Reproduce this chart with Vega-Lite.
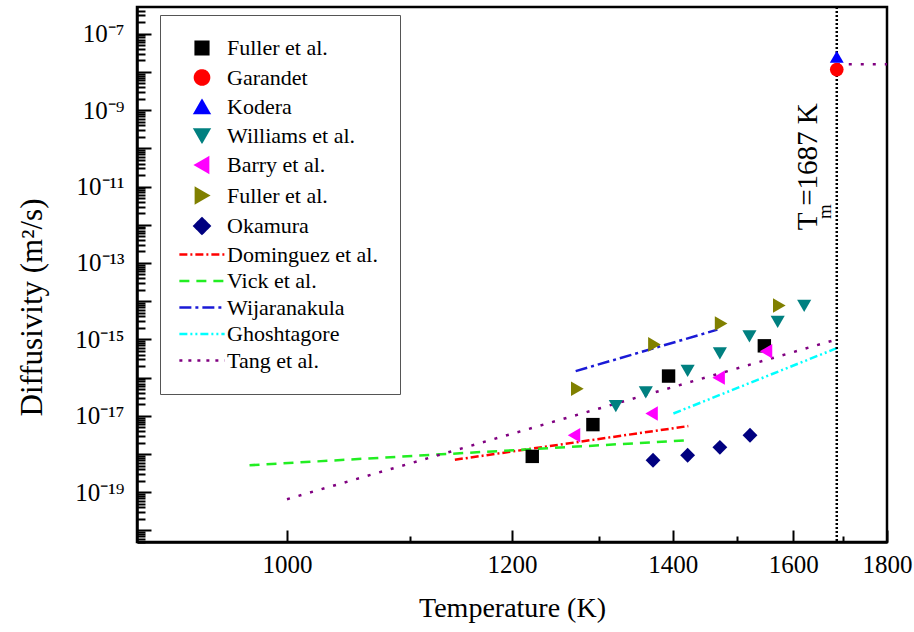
{
  "$schema": "https://vega.github.io/schema/vega-lite/v6.json",
  "width": 750,
  "height": 535,
  "autosize": {"type": "none"},
  "padding": {"left": 137, "top": 7, "right": 27, "bottom": 90},
  "background": "white",
  "config": {
    "view": {"stroke": "black", "strokeWidth": 2.5},
    "font": "Liberation Serif",
    "axis": {
      "grid": false,
      "domainColor": "black",
      "domainWidth": 2.5,
      "tickColor": "black",
      "tickWidth": 2,
      "labelColor": "black",
      "labelFont": "Liberation Serif",
      "labelFontSize": 25,
      "titleFont": "Liberation Serif",
      "titleFontSize": 28,
      "titleFontWeight": "normal",
      "titleColor": "black",
      "labelFlush": false,
      "labelOverlap": false
    }
  },
  "datasets": {
    "points": [
      {"series": "Fuller et al.", "T": 1222, "D": 8.7e-19},
      {"series": "Fuller et al.", "T": 1293, "D": 5.9e-18},
      {"series": "Fuller et al.", "T": 1394, "D": 1.1e-16},
      {"series": "Fuller et al.", "T": 1547, "D": 6.8e-16},
      {"series": "Garandet", "T": 1687, "D": 1.15e-8},
      {"series": "Kodera", "T": 1687, "D": 2.5e-8},
      {"series": "Williams et al.", "T": 1322, "D": 1.8e-17},
      {"series": "Williams et al.", "T": 1362, "D": 4.1e-17},
      {"series": "Williams et al.", "T": 1422, "D": 1.5e-16},
      {"series": "Williams et al.", "T": 1472, "D": 4.3e-16},
      {"series": "Williams et al.", "T": 1521, "D": 1.2e-15},
      {"series": "Williams et al.", "T": 1571, "D": 2.9e-15},
      {"series": "Williams et al.", "T": 1621, "D": 7.6e-15},
      {"series": "Barry et al.", "T": 1270, "D": 3.1e-18},
      {"series": "Barry et al.", "T": 1370, "D": 1.15e-17},
      {"series": "Barry et al.", "T": 1470, "D": 1.0e-16},
      {"series": "Barry et al.", "T": 1550, "D": 4.9e-16},
      {"series": "Fuller et al. (b)", "T": 1274, "D": 5.1e-17},
      {"series": "Fuller et al. (b)", "T": 1374, "D": 7.4e-16},
      {"series": "Fuller et al. (b)", "T": 1474, "D": 2.6e-15},
      {"series": "Fuller et al. (b)", "T": 1574, "D": 7.7e-15},
      {"series": "Okamura", "T": 1372, "D": 6.9e-19},
      {"series": "Okamura", "T": 1422, "D": 9.3e-19},
      {"series": "Okamura", "T": 1472, "D": 1.5e-18},
      {"series": "Okamura", "T": 1522, "D": 3.1e-18}
    ],
    "lines": [
      {"series": "Dominguez et al.", "seg": "a", "T": 1142, "D": 7.1e-19},
      {"series": "Dominguez et al.", "seg": "a", "T": 1423, "D": 5.4e-18},
      {"series": "Vick et al.", "seg": "a", "T": 973, "D": 5.1e-19},
      {"series": "Vick et al.", "seg": "a", "T": 1423, "D": 2.3e-18},
      {"series": "Wijaranakula", "seg": "a", "T": 1272, "D": 1.48e-16},
      {"series": "Wijaranakula", "seg": "a", "T": 1468, "D": 1.8e-15},
      {"series": "Ghoshtagore", "seg": "a", "T": 1401, "D": 1.15e-17},
      {"series": "Ghoshtagore", "seg": "a", "T": 1687, "D": 5.9e-16},
      {"series": "Tang et al.", "seg": "a", "T": 1000, "D": 6.6e-20},
      {"series": "Tang et al.", "seg": "a", "T": 1687, "D": 1.0e-15},
      {"series": "Tang et al.", "seg": "b", "T": 1687, "D": 1.6e-8},
      {"series": "Tang et al.", "seg": "b", "T": 1800, "D": 1.6e-8}
    ],
    "tm": [{"T": 1687}]
  },
  "layer": [
    {
      "data": {"name": "lines"},
      "mark": {"type": "line", "strokeWidth": 2.5},
      "encoding": {
        "x": {"field": "T", "type": "quantitative",
          "scale": {"type": "pow", "exponent": -1, "domain": [900, 1800], "nice": false, "zero": false},
          "axis": {"orient": "bottom", "values": [1100, 1300, 1500, 1700], "labels": false, "domain": false, "tickSize": -6, "title": null}},
        "y": {"field": "D", "type": "quantitative",
          "scale": {"type": "log", "domain": [5e-21, 5e-7], "nice": false},
          "axis": {"orient": "left", "labels": false, "domain": false, "tickSize": -8, "title": null,
            "values": [5e-21,6e-21,7e-21,8e-21,9e-21,2e-20,3e-20,4e-20,5e-20,6e-20,7e-20,8e-20,9e-20,2e-19,3e-19,4e-19,5e-19,6e-19,7e-19,8e-19,9e-19,2e-18,3e-18,4e-18,5e-18,6e-18,7e-18,8e-18,9e-18,2e-17,3e-17,4e-17,5e-17,6e-17,7e-17,8e-17,9e-17,2e-16,3e-16,4e-16,5e-16,6e-16,7e-16,8e-16,9e-16,2e-15,3e-15,4e-15,5e-15,6e-15,7e-15,8e-15,9e-15,2e-14,3e-14,4e-14,5e-14,6e-14,7e-14,8e-14,9e-14,2e-13,3e-13,4e-13,5e-13,6e-13,7e-13,8e-13,9e-13,2e-12,3e-12,4e-12,5e-12,6e-12,7e-12,8e-12,9e-12,2e-11,3e-11,4e-11,5e-11,6e-11,7e-11,8e-11,9e-11,2e-10,3e-10,4e-10,5e-10,6e-10,7e-10,8e-10,9e-10,2e-9,3e-9,4e-9,5e-9,6e-9,7e-9,8e-9,9e-9,2e-8,3e-8,4e-8,5e-8,6e-8,7e-8,8e-8,9e-8,2e-7,3e-7,4e-7]}},
        "color": {"field": "series", "type": "nominal",
          "scale": {"domain": ["Fuller et al.", "Garandet", "Kodera", "Williams et al.", "Barry et al.", "Fuller et al. (b)", "Okamura", "Dominguez et al.", "Vick et al.", "Wijaranakula", "Ghoshtagore", "Tang et al."],
                    "range": ["#000000", "#ff0000", "#0000ff", "#008080", "#ff00ff", "#808000", "#000080", "#ff0000", "#22ee22", "#1a1ad6", "#00ffff", "#800080"]},
          "legend": {
            "orient": "none", "legendX": 23, "legendY": 8, "title": null,
            "strokeColor": "#555555", "padding": 22, "fillColor": "white",
            "symbolSize": 200, "symbolOffset": 9, "labelOffset": 14, "rowPadding": 4.5,
            "labelFont": "Liberation Serif", "labelFontSize": 22, "labelColor": "black", "labelLimit": 300,
            "labelExpr": "datum.label == 'Fuller et al. (b)' ? 'Fuller et al.' : datum.label",
            "encode": {
              "symbols": {
                "update": {
                  "shape": {"signal": "datum.value == 'Fuller et al.' ? 'square' : datum.value == 'Garandet' ? 'circle' : datum.value == 'Kodera' ? 'triangle-up' : datum.value == 'Williams et al.' ? 'triangle-down' : datum.value == 'Barry et al.' ? 'triangle-left' : datum.value == 'Fuller et al. (b)' ? 'triangle-right' : datum.value == 'Okamura' ? 'diamond' : 'M-3.2,0H3.2'"},
                  "fill": {"signal": "indexof(['Dominguez et al.','Vick et al.','Wijaranakula','Ghoshtagore','Tang et al.'], datum.value) >= 0 ? 'transparent' : scale('color', datum.value)"},
                  "stroke": {"signal": "indexof(['Dominguez et al.','Vick et al.','Wijaranakula','Ghoshtagore','Tang et al.'], datum.value) >= 0 ? scale('color', datum.value) : 'transparent'"},
                  "strokeDash": {"signal": "datum.value == 'Dominguez et al.' ? [8,3,2,3] : datum.value == 'Vick et al.' ? [10,7] : datum.value == 'Wijaranakula' ? [12,4,3,4] : datum.value == 'Ghoshtagore' ? [8,3,2,3,2,3] : datum.value == 'Tang et al.' ? [3,6] : [1,0]"},
                  "strokeWidth": {"value": 2.5},
                  "opacity": {"value": 1},
                  "size": {"signal": "datum.value == 'Fuller et al.' ? 160 : datum.value == 'Okamura' ? 230 : 200"}
                }
              }
            }
          }},
        "strokeDash": {"field": "series", "type": "nominal", "legend": null,
          "scale": {"domain": ["Dominguez et al.", "Vick et al.", "Wijaranakula", "Ghoshtagore", "Tang et al."],
                    "range": [[8, 3, 2, 3], [10, 7], [12, 4, 3, 4], [8, 3, 2, 3, 2, 3], [3, 9]]}},
        "detail": {"field": "seg"}
      }
    },
    {
      "data": {"name": "tm"},
      "mark": {"type": "rule", "color": "black", "strokeWidth": 2.5, "strokeDash": [2, 2]},
      "encoding": {
        "x": {"field": "T", "type": "quantitative",
          "scale": {"type": "pow", "exponent": -1, "domain": [900, 1800], "nice": false, "zero": false},
          "axis": null}
      }
    },
    {
      "data": {"name": "points"},
      "mark": {"type": "point", "filled": true, "opacity": 1},
      "encoding": {
        "x": {"field": "T", "type": "quantitative",
          "scale": {"type": "pow", "exponent": -1, "domain": [900, 1800], "nice": false, "zero": false},
          "axis": {"orient": "bottom", "values": [1000, 1200, 1400, 1600, 1800], "format": "d", "tickSize": -12,
            "labelPadding": 22, "title": "Temperature (K)", "titleY": 66, "titleBaseline": "middle"}},
        "y": {"field": "D", "type": "quantitative",
          "scale": {"type": "log", "domain": [5e-21, 5e-7], "nice": false},
          "axis": {"orient": "left", "tickSize": -14, "labelPadding": 27,
            "values": [1e-20, 1e-19, 1e-18, 1e-17, 1e-16, 1e-15, 1e-14, 1e-13, 1e-12, 1e-11, 1e-10, 1e-9, 1e-8, 1e-7],
            "labelExpr": "['10⁻⁷','','10⁻⁹','','10⁻¹¹','','10⁻¹³','','10⁻¹⁵','','10⁻¹⁷','','10⁻¹⁹',''][-7 - round(log(datum.value)/LN10)]",
            "title": "Diffusivity (m²/s)", "titleFontSize": 31, "titleX": -105, "titleY": 300, "titleBaseline": "middle"}},
        "color": {"field": "series", "type": "nominal",
          "scale": {"domain": ["Fuller et al.", "Garandet", "Kodera", "Williams et al.", "Barry et al.", "Fuller et al. (b)", "Okamura", "Dominguez et al.", "Vick et al.", "Wijaranakula", "Ghoshtagore", "Tang et al."],
                    "range": ["#000000", "#ff0000", "#0000ff", "#008080", "#ff00ff", "#808000", "#000080", "#ff0000", "#22ee22", "#1a1ad6", "#00ffff", "#800080"]},
          "legend": {
            "orient": "none", "legendX": 23, "legendY": 8, "title": null,
            "strokeColor": "#555555", "padding": 22, "fillColor": "white",
            "symbolSize": 200, "symbolOffset": 9, "labelOffset": 14, "rowPadding": 4.5,
            "labelFont": "Liberation Serif", "labelFontSize": 22, "labelColor": "black", "labelLimit": 300,
            "labelExpr": "datum.label == 'Fuller et al. (b)' ? 'Fuller et al.' : datum.label",
            "encode": {
              "symbols": {
                "update": {
                  "shape": {"signal": "datum.value == 'Fuller et al.' ? 'square' : datum.value == 'Garandet' ? 'circle' : datum.value == 'Kodera' ? 'triangle-up' : datum.value == 'Williams et al.' ? 'triangle-down' : datum.value == 'Barry et al.' ? 'triangle-left' : datum.value == 'Fuller et al. (b)' ? 'triangle-right' : datum.value == 'Okamura' ? 'diamond' : 'M-3.2,0H3.2'"},
                  "fill": {"signal": "indexof(['Dominguez et al.','Vick et al.','Wijaranakula','Ghoshtagore','Tang et al.'], datum.value) >= 0 ? 'transparent' : scale('color', datum.value)"},
                  "stroke": {"signal": "indexof(['Dominguez et al.','Vick et al.','Wijaranakula','Ghoshtagore','Tang et al.'], datum.value) >= 0 ? scale('color', datum.value) : 'transparent'"},
                  "strokeDash": {"signal": "datum.value == 'Dominguez et al.' ? [8,3,2,3] : datum.value == 'Vick et al.' ? [10,7] : datum.value == 'Wijaranakula' ? [12,4,3,4] : datum.value == 'Ghoshtagore' ? [8,3,2,3,2,3] : datum.value == 'Tang et al.' ? [3,6] : [1,0]"},
                  "strokeWidth": {"value": 2.5},
                  "opacity": {"value": 1},
                  "size": {"signal": "datum.value == 'Fuller et al.' ? 160 : datum.value == 'Okamura' ? 230 : 200"}
                }
              }
            }
          }},
        "shape": {"field": "series", "type": "nominal", "legend": null,
          "scale": {"domain": ["Fuller et al.", "Garandet", "Kodera", "Williams et al.", "Barry et al.", "Fuller et al. (b)", "Okamura"],
                    "range": ["square", "circle", "triangle-up", "triangle-down", "triangle-left", "triangle-right", "diamond"]}},
        "size": {"field": "series", "type": "nominal", "legend": null,
          "scale": {"domain": ["Fuller et al.", "Garandet", "Kodera", "Williams et al.", "Barry et al.", "Fuller et al. (b)", "Okamura"],
                    "range": [180, 220, 240, 240, 240, 240, 320]}}
      }
    },
    {
      "data": {"values": [{}]},
      "mark": {"type": "text", "text": "T   =1687 K", "angle": 270, "fontSize": 29, "font": "Liberation Serif", "color": "black", "align": "center", "baseline": "middle"},
      "encoding": {
        "x": {"datum": 1628, "type": "quantitative", "scale": {"type": "pow", "exponent": -1, "domain": [900, 1800], "nice": false, "zero": false}, "axis": null},
        "y": {"datum": 3.3e-11, "type": "quantitative", "scale": {"type": "log", "domain": [5e-21, 5e-7], "nice": false}, "axis": null}
      }
    },
    {
      "data": {"values": [{}]},
      "mark": {"type": "text", "text": "m", "angle": 270, "fontSize": 19, "font": "Liberation Serif", "color": "black", "align": "center", "baseline": "middle"},
      "encoding": {
        "x": {"datum": 1662, "type": "quantitative", "scale": {"type": "pow", "exponent": -1, "domain": [900, 1800], "nice": false, "zero": false}, "axis": null},
        "y": {"datum": 2.2e-12, "type": "quantitative", "scale": {"type": "log", "domain": [5e-21, 5e-7], "nice": false}, "axis": null}
      }
    }
  ],
  "resolve": {"axis": {"x": "independent", "y": "independent"}}
}
